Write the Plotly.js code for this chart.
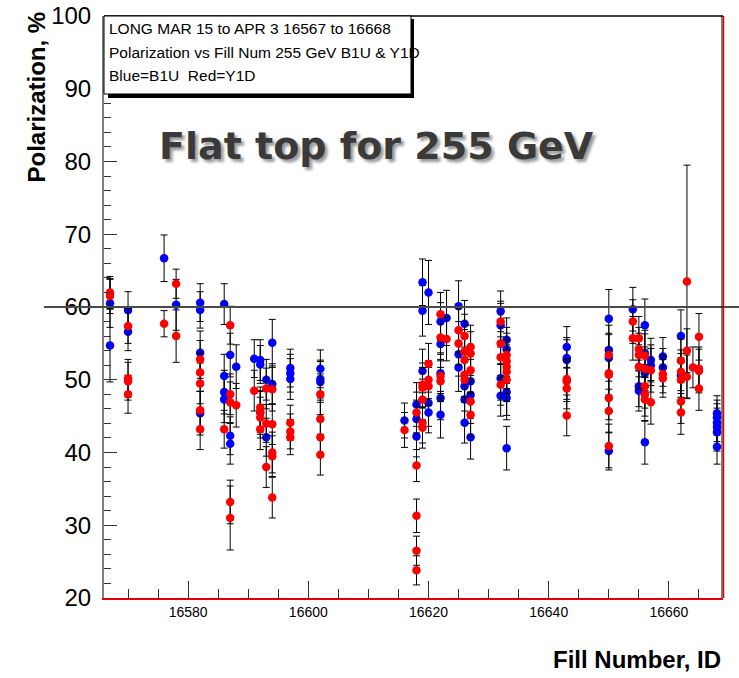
<!DOCTYPE html>
<html>
<head>
<meta charset="utf-8">
<script src="https://cdn.plot.ly/plotly-3.0.1.min.js"></script>
<style>html,body{margin:0;padding:0;background:#fff;}#chart{width:739px;height:678px;}</style>
</head>
<body>
<div id="chart"></div>
<script>
// Blue = B1U
const blueFill = [
 16567,16567, 16570,16570, 16576, 16578,
 16582,16582,16582,16582,
 16586,16586,16586,16586,
 16587,16587,16587, 16588, 16591,
 16592,16592,16592, 16593,16593, 16594,16594,
 16597,16597,16597, 16602,16602,16602,
 16616, 16618,16618,16618, 16619,16619,16619, 16620,16620,16620,
 16622,16622,16622,16622,16622, 16623,
 16625,16625,16625, 16626,16626,16626,16626, 16627,16627,16627,
 16632,16632,16632,16632, 16633,16633,16633,16633,16633,
 16643,16643,16643, 16650,16650,16650,16650,
 16654, 16655,16655, 16656,16656,16656,16656, 16657,16657,
 16659,16659, 16662,16662,
 16668,16668,16668,16668,16668,16668
];
const blueVal = [
 60.5,54.7, 59.6,56.6, 66.7, 60.3,
 60.6,59.6,53.7,45.4,
 60.4,50.5,48.3,47.3,
 53.4,42.3,41.2, 51.8, 52.9,
 52.7,52.1,45.5, 50.0,42.1, 55.1,49.4,
 51.6,50.9,50.1, 51.5,50.1,49.7,
 44.4, 46.6,44.6,42.2, 63.4,59.5,51.2, 62.0,46.8,45.5,
 58.0,54.9,50.9,47.5,45.2, 58.5,
 60.1,53.5,51.7, 57.7,49.1,47.3,44.1, 49.8,47.9,42.1,
 59.4,57.5,50.2,47.8, 55.5,54.2,48.3,47.5,40.6,
 54.5,53.0,52.7, 58.4,54.1,53.0,40.2,
 59.7, 49.1,48.5, 57.5,53.6,50.9,41.4, 52.7,52.0,
 53.2,51.7, 56.0,50.6,
 45.4,44.8,44.1,43.5,42.8,40.8
];
const blueErr = [
 3.3,5.0, 2.5,2.6, 3.2, 3.5,
 2.6,2.5,3.0,3.0,
 2.8,3.0,3.0,3.2,
 3.0,2.6,2.8, 3.0, 2.6,
 2.8,2.6,3.0, 2.8,2.6, 3.2,2.8,
 2.6,2.6,2.8, 2.6,2.6,2.8,
 2.4, 3.0,2.6,2.8, 3.2,3.5,3.0, 4.4,3.2,2.8,
 2.6,3.2,2.8,3.0,3.2, 3.8,
 3.5,3.0,3.3, 3.2,3.4,3.0,2.8, 3.0,3.2,3.0,
 2.8,3.0,3.0,2.8, 3.0,3.0,3.2,3.0,3.0,
 2.8,2.8,2.8, 4.0,3.4,3.2,2.6,
 3.0, 2.8,2.8, 3.6,3.2,3.2,3.0, 3.0,2.8,
 2.6,2.6, 3.6,3.0,
 2.4,2.4,2.6,2.6,2.6,2.4
];

// Red = Y1D
const redFill = [
 16567,16567, 16570,16570,16570,16570, 16576, 16578,16578,
 16582,16582,16582,16582,16582,
 16586, 16587,16587,16587,16587,16587, 16588, 16591,
 16592,16592,16592,16592, 16593,16593,16593,
 16594,16594,16594,16594,16594,
 16597,16597,16597, 16602,16602,16602,16602,
 16616, 16618,16618,16618,16618,16618,
 16619,16619,16619,16619,16619, 16620,16620,16620,
 16622,16622,16622,16622, 16623, 16625,16625,
 16626,16626,16626,16626,16626, 16627,16627,16627,16627,16627,
 16632,16632,16632,16632, 16633,16633,16633,16633,16633,
 16643,16643,16643,16643,
 16650,16650,16650,16650,16650,16650,
 16654,16654, 16655,16655,16655,16655,
 16656,16656,16656,16656,16656, 16657,16657,
 16659,16659, 16662,16662,16662,16662,16662,
 16663,16663,16663, 16664, 16665,16665,16665,16665
];
const redVal = [
 62.0,61.5, 57.4,50.2,49.8,48.0, 57.7, 63.2,56.0,
 52.8,51.0,49.5,45.8,43.2,
 43.2, 57.5,48.0,46.9,33.2,31.0, 46.5, 48.5,
 46.2,45.6,44.8,43.2, 48.8,44.0,38.0,
 48.7,43.9,40.0,39.5,33.8,
 44.1,42.9,42.1, 48.0,44.6,42.1,39.7,
 43.1, 45.5,38.2,31.3,26.5,23.8,
 49.3,48.9,47.3,44.1,43.4, 52.2,50.0,49.1,
 59.0,55.8,50.5,49.8, 55.6, 56.8,55.0,
 56.0,53.9,52.7,50.7,50.0, 54.5,53.6,51.3,47.0,45.2,
 58.0,55.0,53.1,49.3, 53.4,52.5,51.8,51.1,50.0,
 50.1,49.8,48.8,45.1,
 53.4,50.9,50.7,47.5,45.7,40.9,
 58.0,55.7, 55.7,54.2,53.4,51.8,
 53.3,51.5,49.1,48.0,47.3, 51.3,46.9,
 50.8,50.2, 52.6,51.1,50.0,47.0,45.5,
 63.5,54.0,50.4, 51.7, 55.9,51.5,51.2,48.8
];
const redErr = [
 2.2,2.4, 2.4,2.6,2.6,2.6, 1.8, 2.0,3.6,
 2.6,2.6,2.8,2.6,2.8,
 2.6, 2.6,2.8,2.8,3.0,4.4, 3.0, 2.8,
 2.8,2.8,2.8,2.8, 2.8,2.6,2.8,
 3.0,2.8,2.8,2.8,2.8,
 2.4,2.4,2.4, 2.8,2.6,2.6,2.8,
 2.4, 2.8,2.2,2.3,2.0,2.0,
 3.0,2.8,2.8,2.8,2.8, 2.8,2.6,2.6,
 3.0,3.0,3.0,2.8, 3.0, 3.0,3.0,
 3.0,3.0,3.0,3.0,2.8, 3.0,3.0,3.0,3.0,3.0,
 2.8,2.8,2.8,2.8, 3.0,3.0,3.0,3.0,3.0,
 2.8,2.8,2.8,2.8,
 3.0,3.0,3.0,3.0,3.0,3.0,
 3.0,3.0, 3.0,3.0,3.0,3.0,
 3.0,3.0,3.0,3.0,3.0, 3.0,3.0,
 2.6,2.6, 3.0,3.0,3.0,3.0,3.0,
 16.0,3.0,3.0, 2.8, 3.2,3.0,3.0,3.0
];

const xTicks = [16580,16600,16620,16640,16660];
const xRange = [16566,16669];
const yRange = [20,100];
const refLine = 60;
const boxLines = ["LONG MAR 15 to APR 3 16567 to 16668",
                  "Polarization vs Fill Num 255 GeV B1U & Y1D",
                  "Blue=B1U  Red=Y1D"];
const bannerText = "Flat top for 255 GeV";
const yTitle = "Polarization, %";
const xTitle = "Fill Number, ID";

// plot area in pixels
const L = 104, R = 723, T = 16, B = 598;
const px = v => (v - L) / (R - L);
const py = v => (B - v) / (B - T);

function errStyle(arr){
  return {type:'data', array:arr, visible:true, color:'#000', thickness:1, width:3.5};
}
const traces = [
  {x: blueFill, y: blueVal, type:'scatter', mode:'markers', name:'B1U',
   marker:{color:'#0000ff', size:8.5}, error_y: errStyle(blueErr)},
  {x: redFill, y: redVal, type:'scatter', mode:'markers', name:'Y1D',
   marker:{color:'#ff0000', size:8.5}, error_y: errStyle(redErr)}
];

const font = 'Liberation Sans, Arial, Helvetica, sans-serif';
const annotations = [];
boxLines.forEach((t,i)=>{
  annotations.push({xref:'paper', yref:'paper', x:px(107), y:py([28.5,52,75.5][i]),
    xanchor:'left', yanchor:'middle', showarrow:false, text:t,
    font:{family:font, size:15.5, color:'#000'}});
});
// banner with drop shadow
annotations.push({xref:'paper', yref:'paper', x:px(376), y:py(146), xanchor:'center', yanchor:'middle',
  showarrow:false, text:'<b>'+bannerText+'</b>',
  font:{family:'DejaVu Sans', size:38, color:'#3a3a3a', shadow:'3px 3px 3px #9a9a9a'}});
// axis titles
annotations.push({xref:'paper', yref:'paper', x:px(36), y:py(10), xanchor:'center', yanchor:'top',
  textangle:-90, showarrow:false, text:'<b>'+yTitle+'</b>', font:{family:font, size:24, color:'#000'}});
annotations.push({xref:'paper', yref:'paper', x:1, y:py(659), xanchor:'right', yanchor:'middle',
  showarrow:false, text:'<b>'+xTitle+'</b>', font:{family:font, size:24, color:'#000'}});

const yl = (refLine-yRange[0])/(yRange[1]-yRange[0]);
const shapes = [
  // reference line at 60 extending beyond the frame
  {type:'line', xref:'paper', yref:'paper', x0:px(44), x1:px(739), y0:yl, y1:yl,
   line:{color:'#4a4a4a', width:2}, layer:'above'},
  // top border
  {type:'line', xref:'paper', yref:'paper', x0:0, x1:1, y0:1, y1:1, line:{color:'#000', width:1.5}, layer:'above'},
  // right border
  {type:'line', xref:'paper', yref:'paper', x0:px(722), x1:px(722), y0:0, y1:1, line:{color:'#000', width:1}, layer:'above'},
  {type:'line', xref:'paper', yref:'paper', x0:px(723.5), x1:px(723.5), y0:0, y1:1, line:{color:'#e00000', width:1.5}, layer:'above'},
  // text box shadow + box
  {type:'rect', xref:'paper', yref:'paper', x0:px(108), x1:px(414), y0:py(19), y1:py(98), fillcolor:'#000', line:{width:0}, layer:'above'},
  {type:'rect', xref:'paper', yref:'paper', x0:px(104), x1:px(411), y0:py(16), y1:py(94), fillcolor:'#fff', line:{color:'#000', width:1}, layer:'above'}
];

const layout = {
  width:739, height:678,
  margin:{l:L, r:739-R, t:T, b:678-B, pad:0},
  paper_bgcolor:'#fff', plot_bgcolor:'#fff',
  showlegend:false,
  font:{family:font, color:'#000'},
  xaxis:{range:xRange, tickvals:xTicks, tickformat:'d', ticks:'inside', ticklen:17, tickwidth:1, tickcolor:'#333',
    showline:true, linecolor:'#e00000', linewidth:2, showgrid:false, zeroline:false,
    tickfont:{family:font, size:14, color:'#000'},
    minor:{dtick:5, tick0:16565, ticks:'inside', ticklen:9, tickcolor:'#333', tickwidth:1, showgrid:false}},
  yaxis:{range:yRange, dtick:10, tick0:20, ticks:'inside', ticklen:13, tickwidth:1, tickcolor:'#333',
    showline:true, linecolor:'#808080', linewidth:2, showgrid:false, zeroline:false,
    tickfont:{family:font, size:24, color:'#000'}, ticklabelstandoff:6,
    minor:{dtick:2, tick0:20, ticks:'inside', ticklen:7, tickcolor:'#333', tickwidth:1, showgrid:false}},
  shapes: shapes,
  annotations: annotations
};

Plotly.newPlot('chart', traces, layout, {displayModeBar:false, staticPlot:true});
</script>
</body>
</html>
